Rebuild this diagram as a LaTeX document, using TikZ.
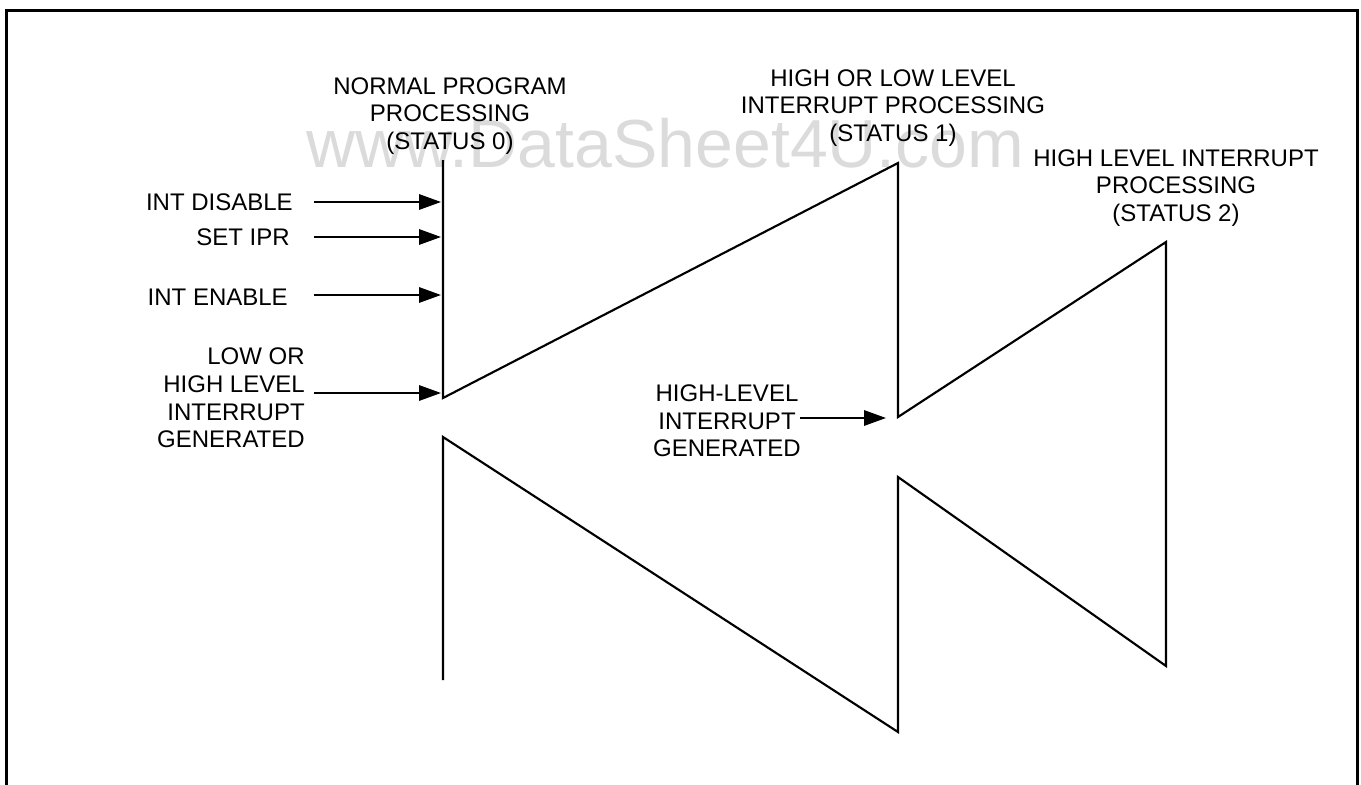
\documentclass[tikz,border=0pt]{standalone}
\usepackage{fontspec}
\setmainfont{Liberation Sans}
\usetikzlibrary{arrows.meta}
\begin{document}
\begin{tikzpicture}[x=0.75pt,y=-0.75pt,
  lbl/.style={inner sep=0pt,font=\fontsize{18pt}{20.8pt}\selectfont},
  wave/.style={line width=1.6pt,line join=miter},
  arr/.style={line width=1.6pt,-{Triangle[length=16.5pt,width=11.5pt]}}]
\useasboundingbox (0,0) rectangle (1361,785);
% watermark
\node[anchor=base west,inner sep=0pt,text=black!14,font=\fontsize{51pt}{60pt}\selectfont] (wm) at (306,167) {www.DataSheet4U.com};
% frame
\draw[line width=2.25pt] (6,830) -- (6,10) -- (1357,10) -- (1357,830);
% zigzag coordinates
\coordinate (p0) at (443,160);
\coordinate (p1) at (443,398);
\coordinate (p2) at (898,163);
\coordinate (p3) at (898,417);
\coordinate (p4) at (1166,242);
\coordinate (p5) at (1166,666);
\coordinate (q0) at (443,680);
\coordinate (q1) at (443,437);
\coordinate (q2) at (898,732);
\coordinate (q3) at (898,477);
\draw[wave] (p0) -- (p1) -- (p2) -- (p3) -- (p4) -- (p5) -- (q3) -- (q2) -- (q1) -- (q0);
% labels
\node[lbl,align=center] (s0) at (450,116) {NORMAL PROGRAM\\PROCESSING\\(STATUS 0)};
\node[lbl,align=center] (s1) at (893,108) {HIGH OR LOW LEVEL\\INTERRUPT PROCESSING\\(STATUS 1)};
\node[lbl,align=center] (s2) at (1176,188) {HIGH LEVEL INTERRUPT\\PROCESSING\\(STATUS 2)};
\node[lbl,anchor=east] (intdis) at (293,202) {INT DISABLE};
\node[lbl,anchor=east] (setipr) at (290,237) {SET IPR};
\node[lbl,anchor=east] (inten) at (288,297) {INT ENABLE};
\node[lbl,anchor=east,align=right] (lowhigh) at (305,398) {LOW OR\\HIGH LEVEL\\INTERRUPT\\GENERATED};
\node[lbl,align=center] (hl) at (727,421) {HIGH-LEVEL\\INTERRUPT\\GENERATED};
% arrows
\coordinate (a1s) at (314,202); \coordinate (a1e) at (441,202);
\coordinate (a2s) at (314,237); \coordinate (a2e) at (441,237);
\coordinate (a3s) at (314,295); \coordinate (a3e) at (441,295);
\coordinate (a4s) at (314,393); \coordinate (a4e) at (441,393);
\coordinate (a5s) at (800,418); \coordinate (a5e) at (886,418);
\draw[arr] (a1s) -- (a1e);
\draw[arr] (a2s) -- (a2e);
\draw[arr] (a3s) -- (a3e);
\draw[arr] (a4s) -- (a4e);
\draw[arr] (a5s) -- (a5e);
\end{tikzpicture}
\end{document}
